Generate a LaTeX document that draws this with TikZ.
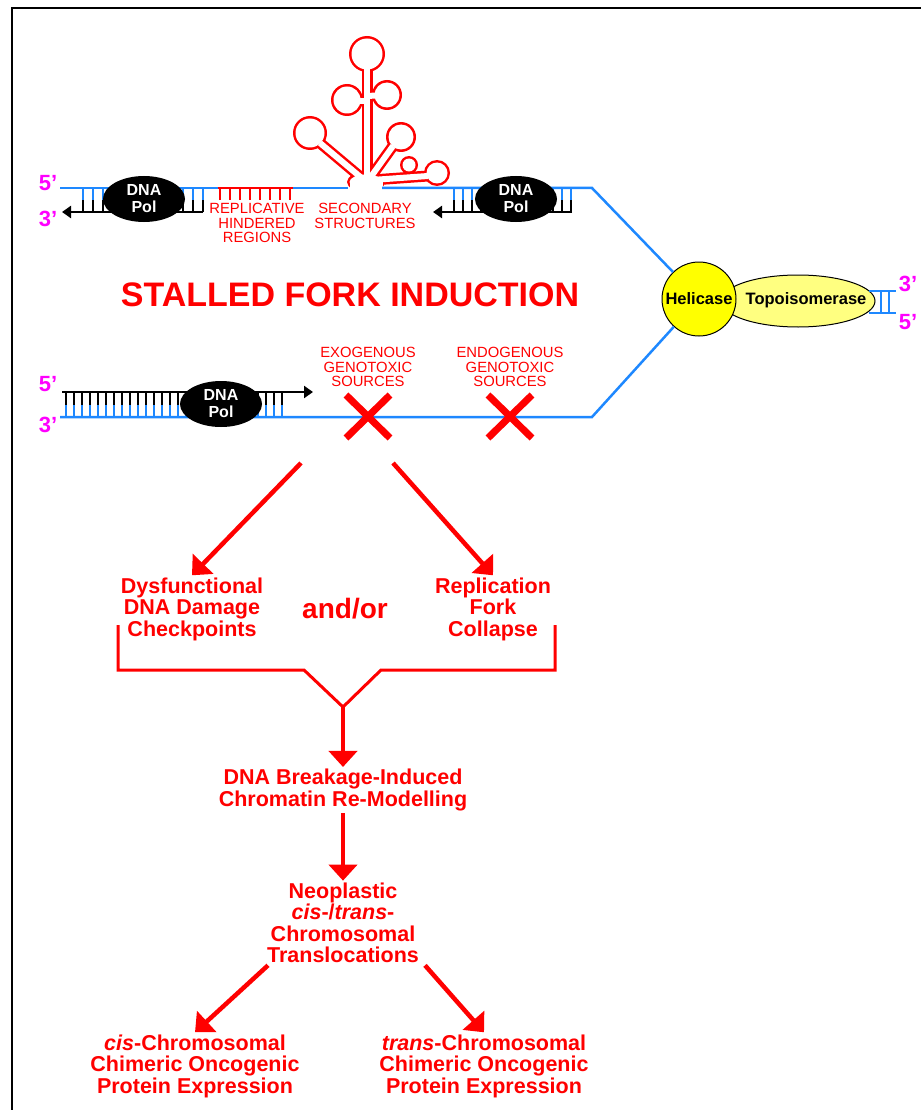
\documentclass[tikz,border=0pt]{standalone}
\usepackage{fontspec}
\setmainfont{Liberation Sans}
\usetikzlibrary{positioning,arrows.meta,shapes.geometric}

\definecolor{dnablue}{RGB}{30,136,255}
\definecolor{fred}{RGB}{255,0,0}
\definecolor{primer}{RGB}{255,0,255}
\definecolor{helyel}{RGB}{255,255,0}
\definecolor{topoyel}{RGB}{255,255,128}

\begin{document}
\begin{tikzpicture}[
  x=1pt, y=-1pt,
  strand/.style={dnablue, line width=2.5pt},
  nascent/.style={black, line width=2.5pt, -{Triangle[length=9pt,width=12pt]}},
  rung/.style={line width=2pt},
  pol/.style={
    ellipse, fill=black, minimum width=82pt, minimum height=46pt,
    inner sep=0pt, text=white, align=center,
    font=\fontsize{16}{17}\selectfont\bfseries
  },
  prime/.style={text=primer, inner sep=0pt, font=\fontsize{22}{22}\selectfont\bfseries},
  capt/.style={text=fred, align=center, inner sep=0pt, font=\fontsize{14.8}{14.5}\selectfont},
  flow/.style={text=fred, align=center, inner sep=2pt, font=\fontsize{21.5}{21.5}\selectfont\bfseries},
  arr/.style={fred, line width=4.5pt, -{Triangle[length=16pt,width=28pt]}},
  brace/.style={fred, line width=3pt},
  hit/.style={fred, line width=7pt}
]
\useasboundingbox (0,0) rectangle (921,1110);

% frame
\draw[line width=2.5pt] (12,1110) -- (12,8) -- (921,8);

% --- secondary structure (outline of stems and loops) ---
\fill[fred] (366,182) ellipse [x radius=19, y radius=10];
\foreach \c/\w/\d in {fred/11/0, white/6/2.5} {
  \foreach \xa/\ya/\xb/\yb in {367/186/367/60, 367/101/349/101, 367/96/386/95,
                               364/180/320/143, 370/178/393/146, 372/180/428/176}
    \draw[\c, line width=\w pt] (\xa,\ya) -- (\xb,\yb);
  \foreach \x/\y/\r in {367/54/18, 347/100/16, 387/95/15, 310/133/17,
                        401/137/15, 437/173/13, 409/165/9}
    \fill[\c] (\x,\y) circle (\r-\d);
}
\fill[white] (366,182) ellipse [x radius=16.5, y radius=7.5];
\fill[white] (349.5,182) rectangle (382.5,192);
\fill[white] (340,189.5) rectangle (395,197);

% --- upper (lagging) arm ---
\foreach \x in {83,93,...,203} {
  \draw[rung, dnablue] (\x,188) -- (\x,200);
  \draw[rung, black] (\x,200) -- (\x,212);
}
\foreach \x in {454,463,...,571} {
  \draw[rung, dnablue] (\x,188) -- (\x,200);
  \draw[rung, black] (\x,200) -- (\x,212);
}
\draw[nascent] (203,212) -- (62,212);
\draw[nascent] (572,212) -- (433,212);

% hindered region
\draw[fred, line width=2.5pt] (218,188) -- (293,188);
\foreach \x in {220,230,...,290}
  \draw[fred, rung] (\x,188) -- (\x,200);

% --- lower (leading) arm ---
\foreach \x in {66,74,...,282} {
  \draw[rung, black] (\x,392) -- (\x,405);
  \draw[rung, dnablue] (\x,405) -- (\x,417);
}
\draw[nascent] (62,392) -- (313,392);

% --- helicase / topoisomerase ---
\node[ellipse, draw=black, line width=1pt, fill=topoyel,
      minimum width=154pt, minimum height=52pt] (topo) at (798,301) {};
\node[circle, draw=black, line width=1pt, fill=helyel, minimum size=74pt,
      inner sep=0pt, font=\fontsize{16.5}{16.5}\selectfont\bfseries] (hel) at (699,299) {Helicase};
\node[font=\fontsize{16.5}{16.5}\selectfont\bfseries, inner sep=0pt] (topotxt) at (806,300) {Topoisomerase};

% parental strands
\draw[strand] (60,188) -- (218,188);
\draw[strand] (293,188) -- (348,188);
\draw[strand] (382,188) -- (592,188) -- (hel);
\draw[strand] (60,417) -- (592,417) -- (hel);
\draw[strand] (topo.east) ++(-7,-10) -- (896,291);
\draw[strand] (topo.east) ++(-7,12) -- (896,313);
\foreach \x in {881,889}
  \draw[rung, dnablue] (\x,291) -- (\x,313);

% polymerases
\node[pol] (polA) at (144,199) {DNA\\Pol};
\node[pol] (polB) at (516,199) {DNA\\Pol};
\node[pol] (polC) at (221,404) {DNA\\Pol};

% strand ends
\node[prime] (a5) at (48,183) {5'};
\node[prime] (a3) at (48,219) {3'};
\node[prime] (b5) at (48,384) {5'};
\node[prime] (b3) at (48,425) {3'};
\node[prime] (c3) at (908,284) {3'};
\node[prime] (c5) at (908,322) {5'};

% lesions
\draw[hit] (346,395) -- (390,438) (390,395) -- (346,438);
\draw[hit] (488,395) -- (532,438) (532,395) -- (488,438);

% captions
\node[capt] (hind) at (257,223) {REPLICATIVE\\HINDERED\\REGIONS};
\node[capt] (sec) at (365,216) {SECONDARY\\STRUCTURES};
\node[capt] (exo) at (368,367) {EXOGENOUS\\GENOTOXIC\\SOURCES};
\node[capt] (endo) at (510,367) {ENDOGENOUS\\GENOTOXIC\\SOURCES};
\node[text=fred, font=\fontsize{34}{34}\selectfont\bfseries] (title) at (350,295) {STALLED FORK INDUCTION};

% --- outcome cascade ---
\node[flow] (dysf) at (192,609) {Dysfunctional\\DNA Damage\\Checkpoints};
\node[flow, font=\fontsize{28}{28}\selectfont\bfseries] (andor) at (345,609) {and/or};
\node[flow] (repl) at (493,609) {Replication\\Fork\\Collapse};
\node[flow] (brk) at (343,790) {DNA Breakage-Induced\\Chromatin Re-Modelling};
\node[flow] (neo) at (343,923) {Neoplastic\\\textit{cis}-/\textit{trans}-\\Chromosomal\\Translocations};
\node[flow] (cis) at (195,1066) {\textit{cis}-Chromosomal\\Chimeric Oncogenic\\Protein Expression};
\node[flow] (trans) at (484,1066) {\textit{trans}-Chromosomal\\Chimeric Oncogenic\\Protein Expression};

\coordinate (xl) at (301,463);
\coordinate (xr) at (393,463);
\coordinate (join) at (343,707);

\draw[arr] (xl) -- (dysf.north);
\draw[arr] (xr) -- (repl.north);
\draw[brace] (118,625) -- (118,670) -- (304,670) -- (join) -- (381,670) -- (555,670) -- (555,625);
\draw[arr] (join) -- (brk.north);
\draw[arr] (brk.south) -- (neo.north);
\draw[arr] ([xshift=-75pt]neo.south) -- (cis.north);
\draw[arr] ([xshift=82pt]neo.south) -- (trans.north);

\end{tikzpicture}
\end{document}
